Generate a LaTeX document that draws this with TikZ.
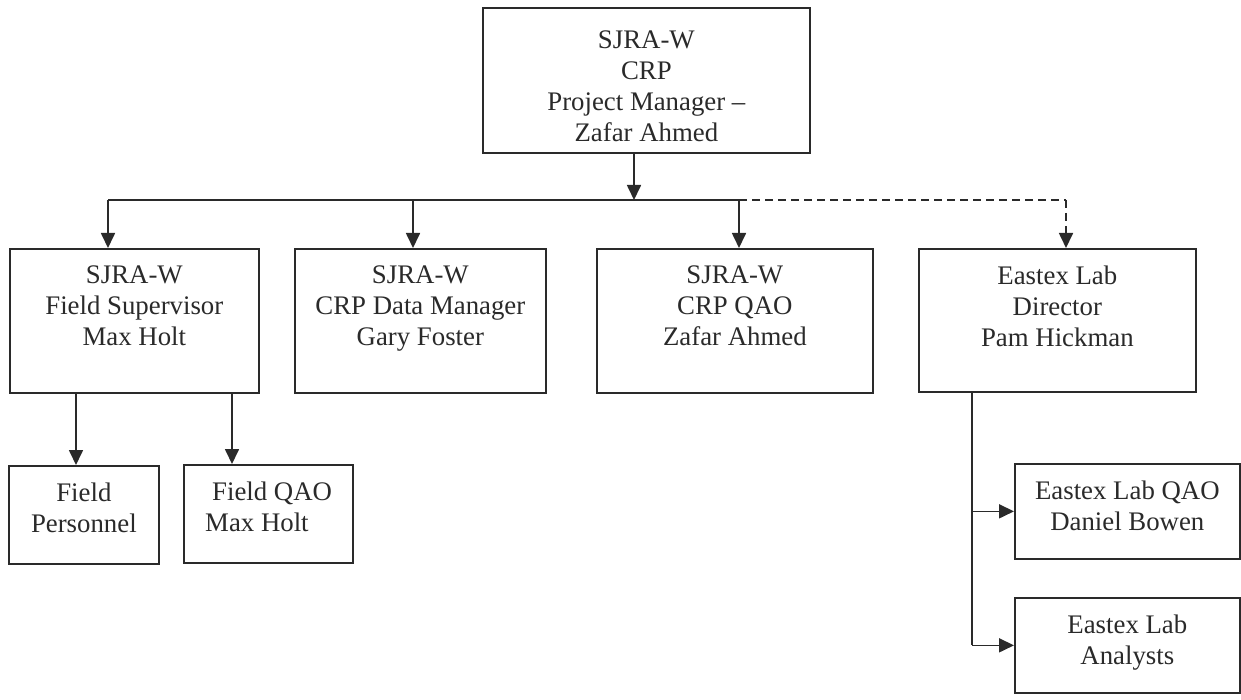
\documentclass[tikz,border=0pt]{standalone}
\usepackage{fontspec}
\setmainfont{Liberation Serif}
\usetikzlibrary{arrows.meta}
\definecolor{ink}{HTML}{2A2A2A}
\begin{document}
\begin{tikzpicture}[x=1pt,y=-1pt,
  boxn/.style={draw=ink, line width=1.7pt, inner sep=0pt, anchor=north west},
  lbl/.style={text=ink, font=\fontsize{26.8}{31}\selectfont, align=center, inner sep=0pt, anchor=north},
  conn/.style={draw=ink, line width=1.7pt},
  arr/.style={conn, -{Triangle[width=14pt,length=15pt]}},
  dashline/.style={dash pattern=on 8pt off 5pt}]
\useasboundingbox[fill=white] (0,0) rectangle (1241,700);

% boxes
\node[boxn, minimum width=327pt, minimum height=145pt] (top) at (482,7) {};
\node[boxn, minimum width=249pt, minimum height=144pt] (b1) at (9,248) {};
\node[boxn, minimum width=251pt, minimum height=144pt] (b2) at (294,248) {};
\node[boxn, minimum width=276pt, minimum height=144pt] (b3) at (596,248) {};
\node[boxn, minimum width=277pt, minimum height=143pt] (b4) at (918,248) {};
\node[boxn, minimum width=150pt, minimum height=98pt] (fp) at (8,465) {};
\node[boxn, minimum width=169pt, minimum height=98pt] (fq) at (183,464) {};
\node[boxn, minimum width=225pt, minimum height=95pt] (eq) at (1014,463) {};
\node[boxn, minimum width=225pt, minimum height=95pt] (ea) at (1014,597) {};

% texts
\node[lbl] (ttop) at ([yshift=-24pt]top.north) {SJRA-W\\CRP\\Project Manager --\\Zafar Ahmed};
\node[lbl] (tb1) at ([yshift=-18pt]b1.north) {SJRA-W\\Field Supervisor\\Max Holt};
\node[lbl] (tb2) at ([yshift=-18pt]b2.north) {SJRA-W\\CRP Data Manager\\Gary Foster};
\node[lbl] (tb3) at ([yshift=-18pt]b3.north) {SJRA-W\\CRP QAO\\Zafar Ahmed};
\node[lbl] (tb4) at ([yshift=-18pt]b4.north) {Eastex Lab\\Director\\Pam Hickman};
\node[lbl] (tfp) at ([yshift=-18pt]fp.north) {Field\\Personnel};
\node[lbl, align=left, anchor=north west] (tfq) at (205,482) {\hspace*{7pt}Field QAO\\Max Holt};
\node[lbl] (teq) at ([yshift=-18pt]eq.north) {Eastex Lab QAO\\Daniel Bowen};
\node[lbl] (tea) at ([yshift=-18pt]ea.north) {Eastex Lab\\Analysts};

% junction points
\coordinate (hL) at (108,200);
\coordinate (hM) at (413,200);
\coordinate (hJ) at (634,200);
\coordinate (hR) at (739,200);
\coordinate (hD) at (1066,200);
\coordinate (sA) at (76,400);
\coordinate (sB) at (232,400);
\coordinate (vX) at (972,400);

% connectors
\draw[arr] (top.south -| hJ) -- (hJ);
\draw[conn] (hL) -- (hR);
\draw[conn, dashline] (hR) -- (hD);
\draw[arr] (hL) -- (hL |- b1.north);
\draw[arr] (hM) -- (hM |- b2.north);
\draw[arr] (hR) -- (hR |- b3.north);
\draw[arr, dashline] (hD) -- (hD |- b4.north);
\draw[arr] (b1.south -| sA) -- (sA |- fp.north);
\draw[arr] (b1.south -| sB) -- (sB |- fq.north);
\draw[conn] (b4.south -| vX) -- (vX |- ea.west);
\draw[arr] (vX |- eq.west) -- (eq.west);
\draw[arr] (vX |- ea.west) -- (ea.west);
\end{tikzpicture}
\end{document}
